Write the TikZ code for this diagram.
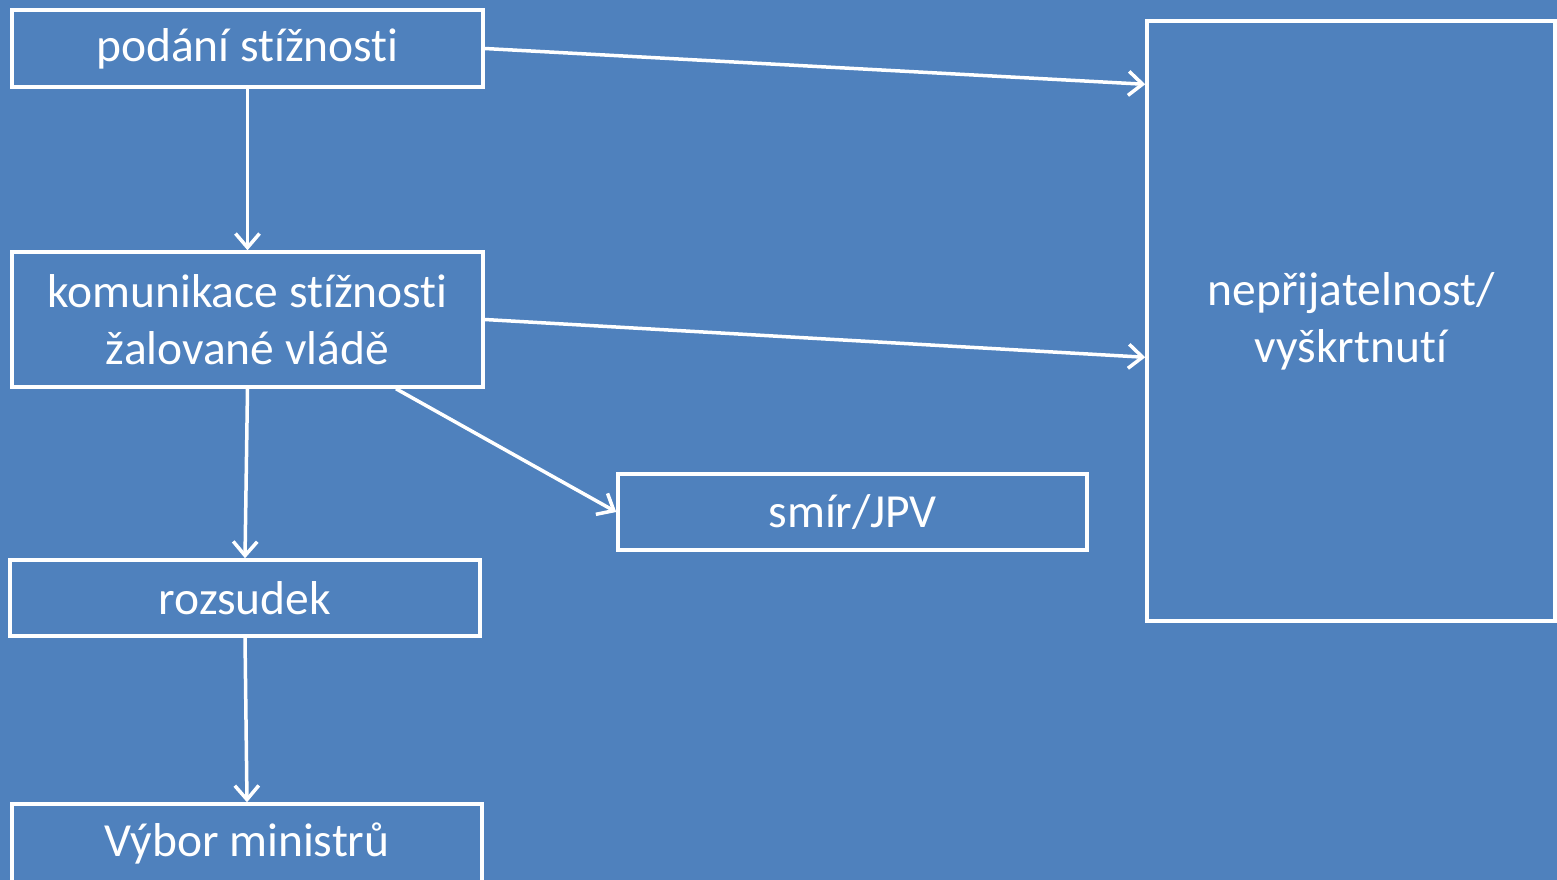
\documentclass[tikz,border=0pt]{standalone}
\usepackage{fontspec}
\setmainfont{Carlito}[Ligatures=NoCommon]
\usetikzlibrary{arrows.meta}
\definecolor{slideblue}{HTML}{4F81BD}

\begin{document}
\begin{tikzpicture}[x=1pt, y=-1pt,
	box/.style={draw=white, line width=3.5pt, text=white, inner sep=0pt, align=center, font=\fontsize{47.5}{57}\selectfont},
	arr/.style={draw=white, line width=3.5pt, -{Straight Barb[length=14pt,width=24pt]}}]
		\fill[slideblue] (0,0) rectangle (1557,880);
		\useasboundingbox (0,0) rectangle (1557,880);
		
		\node[box, minimum width=471pt, minimum height=77pt] (pod) at (247.5,48.5) {podání stížnosti};
		\node[box, minimum width=471pt, minimum height=135pt] (kom) at (247.5,319.5) {komunikace stížnosti\\žalované vládě};
		\node[box, minimum width=470pt, minimum height=76pt] (roz) at (245,598) {rozsudek};
		\node[box, minimum width=470pt, minimum height=100pt] (vyb) at (247,854) {};
		\node[text=white, font=\fontsize{47.5}{57}\selectfont] (vybt) at (247,843) {Výbor ministrů};
		\node[box, minimum width=469pt, minimum height=76pt] (smir) at (852.5,512) {smír/JPV};
		\node[box, minimum width=408pt, minimum height=600pt] (nep) at (1351,321) {nepřijatelnost/\\vyškrtnutí};
		
		\draw[arr] (pod.south) -- (kom.north);
		\draw[arr] (pod.east) -- (nep.131.1);
		\draw[arr] (kom.east) -- (nep.190);
		\draw[arr] (kom.-25) -- (smir.west);
		\draw[arr] (kom.south) -- (roz.north);
		\draw[arr] (roz.south) -- (vyb.north);
\end{tikzpicture}
\end{document}
